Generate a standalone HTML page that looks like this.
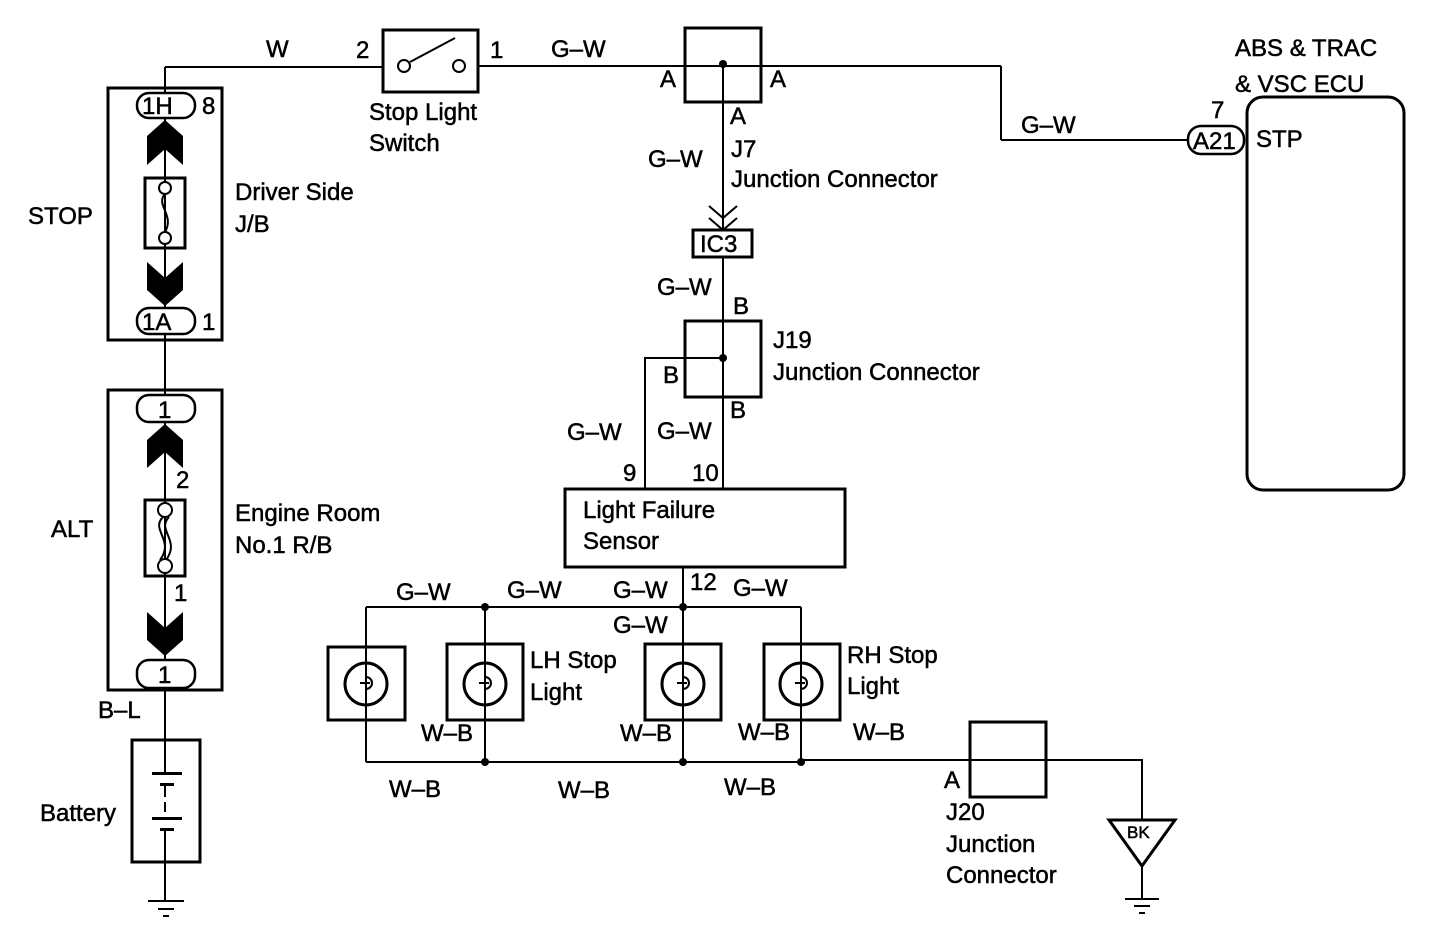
<!DOCTYPE html>
<html><head><style>
body{margin:0;background:#fff;}
svg{display:block}
text{font-family:"Liberation Sans",Arial,sans-serif;font-size:24px;fill:#000;stroke:#000;stroke-width:0.5px;}
</style></head><body>
<svg width="1440" height="926" viewBox="0 0 1440 926" xmlns="http://www.w3.org/2000/svg">
<g fill="none" stroke="#000" stroke-width="2">
<line x1="165" y1="67" x2="165" y2="740"/>
<line x1="165" y1="67" x2="383" y2="67"/>
<rect x="108" y="88" width="114" height="252" stroke-width="3"/>
<rect x="108" y="390" width="114" height="300" stroke-width="3"/>
<rect x="137" y="93" width="58" height="25" rx="12" fill="#fff" stroke-width="2.5"/>
<rect x="137" y="308" width="58" height="26" rx="12" fill="#fff" stroke-width="2.5"/>
<rect x="137" y="395" width="58" height="27" rx="12" fill="#fff" stroke-width="2.5"/>
<rect x="137" y="660" width="58" height="28" rx="12" fill="#fff" stroke-width="2.5"/>
<rect x="145" y="178" width="40" height="70" stroke-width="3" fill="#fff"/>
<line x1="165" y1="178" x2="165" y2="248"/>
<rect x="145" y="500" width="40" height="76" stroke-width="3" fill="#fff"/>
<line x1="165" y1="500" x2="165" y2="576"/>
<rect x="132" y="740" width="68" height="122" stroke-width="3"/>
<line x1="165" y1="740" x2="165" y2="773"/>
<line x1="165" y1="786" x2="165" y2="797"/>
<line x1="165" y1="802" x2="165" y2="812"/>
<line x1="165" y1="830" x2="165" y2="900"/>
<rect x="383" y="30" width="95" height="62" stroke-width="3"/>
<line x1="478" y1="66" x2="1001" y2="66"/>
<line x1="1001" y1="66" x2="1001" y2="140"/>
<line x1="1001" y1="140" x2="1188" y2="140"/>
<line x1="410" y1="62" x2="455" y2="38"/>
<rect x="685" y="28" width="76" height="74" stroke-width="3"/>
<line x1="723" y1="64" x2="723" y2="230"/>
<polyline points="709,206 723,218 737,206"/>
<polyline points="709,218 723,230 737,218"/>
<rect x="693" y="230" width="59" height="27" stroke-width="3"/>
<line x1="723" y1="257" x2="723" y2="489"/>
<rect x="685" y="321" width="76" height="76" stroke-width="3"/>
<polyline points="723,358 645,358 645,489"/>
<rect x="565" y="489" width="280" height="78" stroke-width="3"/>
<line x1="683" y1="567" x2="683" y2="607"/>
<line x1="366" y1="607" x2="801" y2="607"/>
<line x1="366" y1="762" x2="801" y2="762"/>
<polyline points="801,760 1142,760 1142,820"/>
<line x1="366" y1="607" x2="366" y2="762"/>
<line x1="485" y1="607" x2="485" y2="762"/>
<line x1="683" y1="607" x2="683" y2="762"/>
<line x1="801" y1="607" x2="801" y2="762"/>
<rect x="328" y="647" width="77" height="73" stroke-width="3"/>
<rect x="447" y="644" width="76" height="76" stroke-width="3"/>
<rect x="645" y="644" width="76" height="76" stroke-width="3"/>
<rect x="764" y="644" width="76" height="76" stroke-width="3"/>
<circle cx="366" cy="684" r="21" stroke-width="3"/>
<circle cx="485" cy="684" r="21" stroke-width="3"/>
<circle cx="683" cy="684" r="21" stroke-width="3"/>
<circle cx="801" cy="684" r="21" stroke-width="3"/>
<rect x="970" y="722" width="76" height="75" stroke-width="3"/>
<polygon points="1109,820 1175,820 1142,866" stroke-width="3"/>
<line x1="1142" y1="866" x2="1142" y2="898"/>
<rect x="1247" y="97" width="157" height="393" rx="16" stroke-width="3"/>
<rect x="1188" y="126" width="56" height="28" rx="13" fill="#fff" stroke-width="2.5"/>
</g>
<g fill="#000" stroke="none">
<polygon points="165,120 183,136 183,165 165,149 147,165 147,136"/>
<polygon points="147,262 165,278 183,262 183,290 165,306 147,290"/>
<polygon points="165,424 183,440 183,468 165,452 147,468 147,440"/>
<polygon points="147,612 165,628 183,612 183,640 165,656 147,640"/>
<circle cx="723" cy="64" r="4"/><circle cx="723" cy="358" r="4"/>
<circle cx="485" cy="607" r="4"/><circle cx="683" cy="607" r="4"/>
<circle cx="485" cy="762" r="4"/><circle cx="683" cy="762" r="4"/><circle cx="801" cy="762" r="4"/>
<rect x="152" y="772" width="30" height="3"/><rect x="160" y="783" width="14" height="3"/>
<rect x="152" y="817" width="30" height="3"/><rect x="160" y="828" width="14" height="3"/>
<rect x="148" y="900" width="36" height="2"/><rect x="158" y="908" width="16" height="2"/><rect x="163" y="915" width="6" height="2"/>
<rect x="1125" y="898" width="34" height="2"/><rect x="1134" y="905" width="16" height="2"/><rect x="1139" y="912" width="6" height="2"/>
</g>
<g fill="#fff" stroke="#000" stroke-width="2">
<circle cx="404" cy="66" r="6"/><circle cx="459" cy="66" r="6"/>
<circle cx="165" cy="188" r="6"/><circle cx="165" cy="238" r="6"/>
<circle cx="165" cy="510" r="7"/><circle cx="165" cy="566" r="7"/>
</g>
<g fill="none" stroke="#000" stroke-width="2">
<path d="M165,194 C155,205 175,215 165,232"/>
<path d="M163,517 C150,530 175,540 160,560 M169,517 C156,530 181,540 166,560"/>
<path d="M366,663 v14 a6,6 0 0 1 0,12 v16 M360,683 h10"/>
<path d="M485,663 v14 a6,6 0 0 1 0,12 v16 M479,683 h10"/>
<path d="M683,663 v14 a6,6 0 0 1 0,12 v16 M677,683 h10"/>
<path d="M801,663 v14 a6,6 0 0 1 0,12 v16 M795,683 h10"/>
</g>
<text x="266" y="57">W</text>
<text x="356" y="58">2</text><text x="490" y="58">1</text>
<text x="551" y="57">G–W</text>
<text x="369" y="120">Stop Light</text><text x="369" y="151">Switch</text>
<text x="660" y="87">A</text><text x="770" y="87">A</text><text x="730" y="124">A</text>
<text x="731" y="157">J7</text>
<text x="648" y="167">G–W</text>
<text x="731" y="187">Junction Connector</text>
<text x="700" y="252">IC3</text>
<text x="657" y="295">G–W</text>
<text x="733" y="314">B</text>
<text x="773" y="348">J19</text>
<text x="773" y="380">Junction Connector</text>
<text x="663" y="383">B</text>
<text x="730" y="418">B</text>
<text x="567" y="440">G–W</text><text x="657" y="439">G–W</text>
<text x="623" y="481">9</text><text x="692" y="481">10</text>
<text x="583" y="518">Light Failure</text><text x="583" y="549">Sensor</text>
<text x="396" y="600">G–W</text><text x="507" y="598">G–W</text><text x="613" y="598">G–W</text>
<text x="690" y="590">12</text><text x="733" y="596">G–W</text>
<text x="613" y="633">G–W</text>
<text x="530" y="668">LH Stop</text><text x="530" y="700">Light</text>
<text x="847" y="663">RH Stop</text><text x="847" y="694">Light</text>
<text x="421" y="741">W–B</text><text x="620" y="741">W–B</text><text x="738" y="740">W–B</text><text x="853" y="740">W–B</text>
<text x="389" y="797">W–B</text><text x="558" y="798">W–B</text><text x="724" y="795">W–B</text>
<text x="944" y="788">A</text>
<text x="946" y="820">J20</text><text x="946" y="852">Junction</text><text x="946" y="883">Connector</text>
<text x="1127" y="838" style="font-size:17px">BK</text>
<text x="1235" y="56">ABS &amp; TRAC</text><text x="1235" y="92">&amp; VSC ECU</text>
<text x="1211" y="118">7</text>
<text x="1193" y="149">A21</text><text x="1256" y="147">STP</text>
<text x="1021" y="133">G–W</text>
<text x="142" y="114">1H</text><text x="202" y="114">8</text>
<text x="142" y="330">1A</text><text x="202" y="330">1</text>
<text x="158" y="418">1</text><text x="158" y="683">1</text>
<text x="176" y="488">2</text><text x="174" y="601">1</text>
<text x="235" y="200">Driver Side</text><text x="235" y="232">J/B</text>
<text x="28" y="224">STOP</text>
<text x="51" y="537">ALT</text>
<text x="235" y="521">Engine Room</text><text x="235" y="553">No.1 R/B</text>
<text x="98" y="718">B–L</text>
<text x="40" y="821">Battery</text>
</svg>
</body></html>
